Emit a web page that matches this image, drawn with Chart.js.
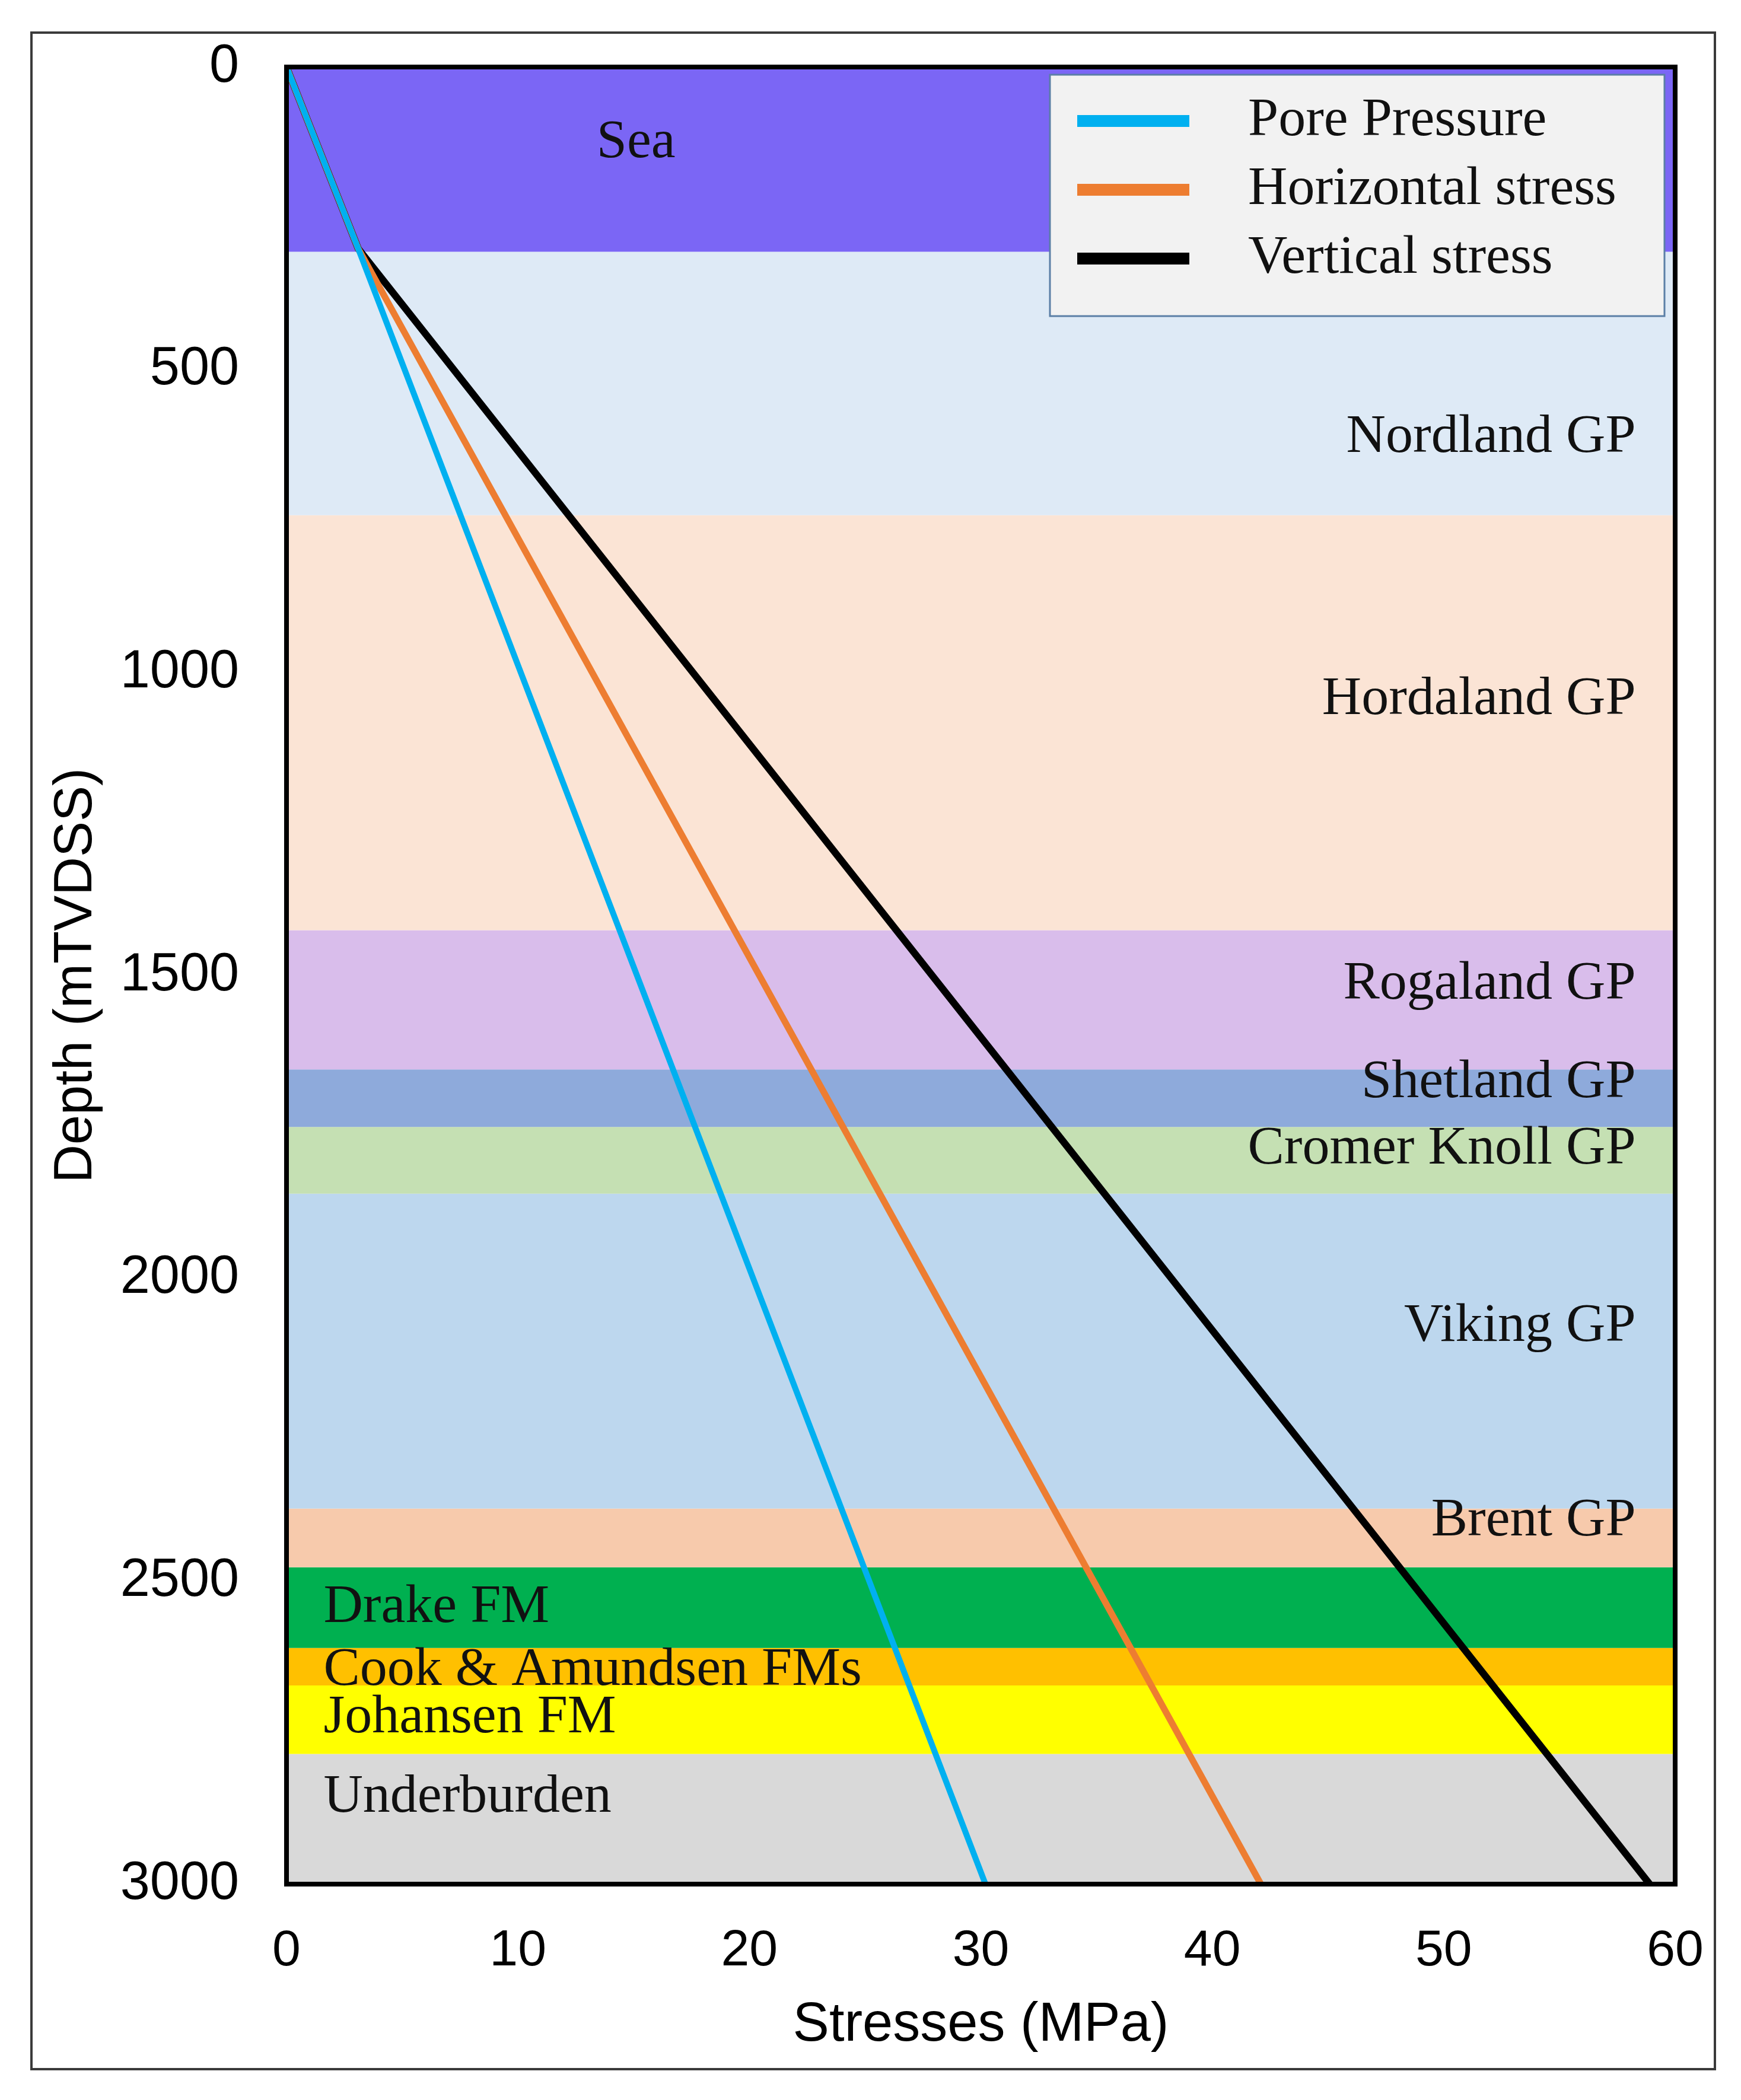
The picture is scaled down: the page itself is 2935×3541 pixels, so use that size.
<!DOCTYPE html>
<html lang="en">
<head>
  <meta charset="UTF-8" />
  <title>Stresses vs depth</title>
  <script src="https://cdn.jsdelivr.net/npm/chart.js"></script>
  <style>
    html, body {
      margin: 0;
      padding: 0;
      background: #fff;
    }
    canvas {
      display: block;
    }
  </style>
</head>
<body>
<canvas id="chart-stress" width="2935" height="3541" style="width:2935px;height:3541px"></canvas>

<script>
  // formations (depth in mTVDSS)
  const bandNames = ["Sea", "Nordland GP", "Hordaland GP", "Rogaland GP", "Shetland GP", "Cromer Knoll GP",
                     "Viking GP", "Brent GP", "Drake FM", "Cook & Amundsen FMs", "Johansen FM", "Underburden"];
  const bandTop  = [0, 305, 740, 1425, 1655, 1750, 1860, 2380, 2477, 2610, 2672, 2785];
  const bandBase = [305, 740, 1425, 1655, 1750, 1860, 2380, 2477, 2610, 2672, 2785, 3000];
  const bandColors = ["#7b66f5", "#deeaf6", "#fbe4d5", "#d9bdeb", "#8eaadb", "#c5e0b3",
                      "#bdd7ee", "#f7caac", "#00b050", "#ffc000", "#ffff00", "#d9d9d9"];
  // where each formation name sits (MPa, depth) and how it is aligned
  const labelStress = [15.1, 58.3, 58.3, 58.3, 58.3, 58.3, 58.3, 58.3, 1.6, 1.6, 1.6, 1.6];
  const labelDepth  = [125, 612, 1045, 1515, 1677, 1787, 2079, 2401, 2544, 2647, 2726, 2857];
  const labelAlign  = ["center", "right", "right", "right", "right", "right", "right", "right", "left", "left", "left", "left"];

  // stress profiles
  const seriesNames = ["Pore Pressure", "Horizontal stress", "Vertical stress"];
  const seriesColors = ["#00b0f0", "#ed7d31", "#000000"];
  const seriesWidths = [10, 11, 12];
  const profileDepth = [0, 300, 3000];
  const porePressure = [0, 3.1, 30.2];
  const horizontalStress = [0, 3.1, 42.1];
  const verticalStress = [0, 3.1, 58.9];

  const xTicks = [0, 10, 20, 30, 40, 50, 60];
  const yTicks = [0, 500, 1000, 1500, 2000, 2500, 3000];

  const SERIF = "'Liberation Serif', 'Times New Roman', serif";
  const SANS = "'Liberation Sans', Arial, sans-serif";

  const datasets = [];

  [porePressure, horizontalStress, verticalStress].forEach((vals, i) => {
    datasets.push({
      label: seriesNames[i],
      data: vals.map((v, k) => ({ x: v, y: profileDepth[k] })),
      showLine: true,
      borderColor: seriesColors[i],
      borderWidth: seriesWidths[i],
      pointRadius: 0,
      fill: false,
      order: i
    });
  });

  bandNames.forEach((name, i) => {
    datasets.push({
      label: name,
      data: [
        { x: 0, y: bandTop[i] },
        { x: 60, y: bandTop[i] },
        { x: 60, y: bandBase[i] },
        { x: 0, y: bandBase[i] }
      ],
      showLine: true,
      borderWidth: 0,
      borderColor: bandColors[i],
      backgroundColor: bandColors[i],
      pointRadius: 0,
      fill: "shape",
      order: 10
    });
  });

  const decor = {
    id: "decor",
    beforeDraw(chart) {
      const c = chart.ctx;
      c.save();
      c.fillStyle = "#fff";
      c.fillRect(0, 0, chart.width, chart.height);
      c.strokeStyle = "#3a3a3a";
      c.lineWidth = 4;
      c.strokeRect(53, 55, 2838, 3434);
      c.restore();
    },
    afterDatasetsDraw(chart) {
      const c = chart.ctx;
      const xs = chart.scales.x, ys = chart.scales.y;
      const a = chart.chartArea;
      c.save();

      // formation names
      c.font = "92px " + SERIF;
      c.fillStyle = "#111";
      c.textBaseline = "middle";
      bandNames.forEach((name, i) => {
        c.textAlign = labelAlign[i];
        c.fillText(name, xs.getPixelForValue(labelStress[i]), ys.getPixelForValue(labelDepth[i]));
      });

      // plot frame
      c.strokeStyle = "#000";
      c.lineWidth = 8;
      c.strokeRect(a.left, a.top, a.right - a.left, a.bottom - a.top);

      // legend inside the plot
      const bx = a.right - 1054, by = a.top + 13, bw = 1036, bh = 407;
      c.fillStyle = "#f2f2f2";
      c.fillRect(bx, by, bw, bh);
      c.strokeStyle = "#5b7fa6";
      c.lineWidth = 3;
      c.strokeRect(bx, by, bw, bh);
      c.font = "92px " + SERIF;
      c.textAlign = "left";
      seriesNames.forEach((name, i) => {
        const y = by + 78 + i * 116;
        c.fillStyle = seriesColors[i];
        c.fillRect(bx + 46, y - 10, 189, 20);
        c.fillStyle = "#111";
        c.fillText(name, bx + 334, y);
      });
      c.restore();
    }
  };

  new Chart(document.getElementById("chart-stress"), {
    type: "scatter",
    data: { datasets: datasets },
    plugins: [decor],
    options: {
      responsive: false,
      devicePixelRatio: 1,
      animation: false,
      layout: { padding: { left: 0, top: 113, right: 111, bottom: 0 } },
      plugins: {
        legend: { display: false },
        tooltip: { enabled: false }
      },
      scales: {
        x: {
          type: "linear",
          position: "bottom",
          min: 0,
          max: 60,
          afterBuildTicks: s => { s.ticks = xTicks.map(v => ({ value: v })); },
          afterFit: s => { s.height = 364; s.paddingLeft = 0; s.paddingRight = 0; },
          grid: { display: false, drawTicks: false },
          border: { display: false },
          ticks: {
            padding: 62,
            color: "#000",
            font: { family: SANS, size: 86 },
            callback: v => String(v)
          },
          title: {
            display: true,
            text: "Stresses (MPa)",
            color: "#000",
            font: { family: SANS, size: 92 },
            padding: { top: 0, bottom: 70 }
          }
        },
        y: {
          type: "linear",
          position: "left",
          reverse: true,
          min: 0,
          max: 3000,
          afterBuildTicks: s => { s.ticks = yTicks.map(v => ({ value: v })); },
          afterFit: s => { s.width = 483; s.paddingTop = 0; s.paddingBottom = 0; },
          grid: { display: false, drawTicks: false },
          border: { display: false },
          ticks: {
            padding: 80,
            color: "#000",
            font: { family: SANS, size: 90 },
            callback: v => String(v)
          },
          title: {
            display: true,
            text: "Depth (mTVDSS)",
            color: "#000",
            font: { family: SANS, size: 90 },
            padding: { top: 75, bottom: 0 }
          }
        }
      }
    }
  });
</script>
</body>
</html>
